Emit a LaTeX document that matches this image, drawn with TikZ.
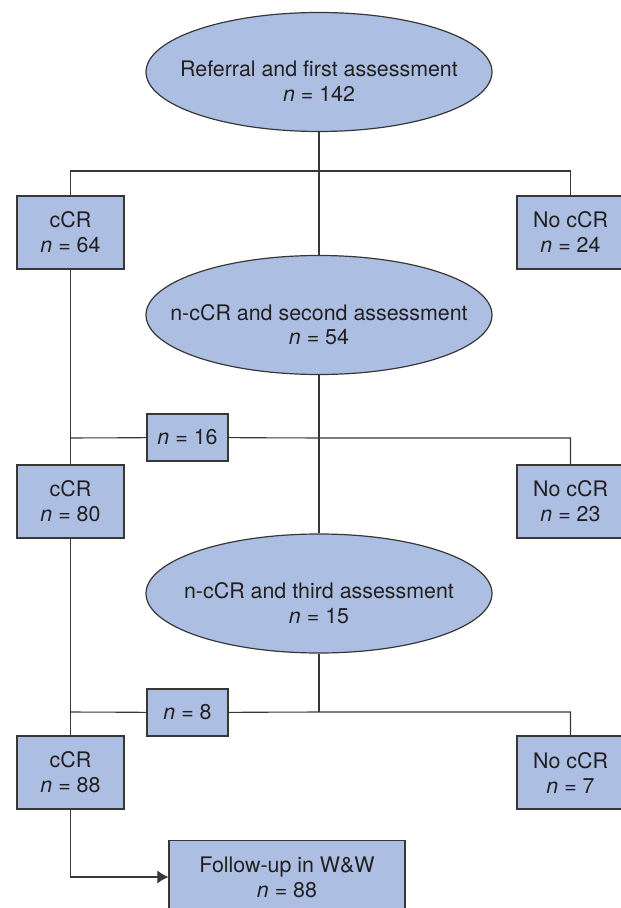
\documentclass[tikz,border=0pt]{standalone}
\usepackage{fontspec}
\setmainfont{TeX Gyre Heros}
\usetikzlibrary{arrows.meta,positioning,shapes.geometric}
\definecolor{boxblue}{RGB}{172,191,227}
\definecolor{linegray}{RGB}{55,55,55}
\definecolor{textgray}{RGB}{35,31,32}
\tikzset{%
	stage/.style    = {draw=linegray, fill=boxblue, ellipse, minimum width=173pt, minimum height=59.5pt, inner xsep=-30pt, inner ysep=0pt, text height=30pt, text depth=0pt, align=center, text=textgray, line width=0.6pt}, % assessment
	result/.style   = {draw=linegray, fill=boxblue, rectangle, minimum width=53.5pt, minimum height=36.5pt, inner sep=0pt, align=center, text=textgray, line width=0.6pt}, % outcome
	count/.style    = {draw=linegray, fill=boxblue, rectangle, minimum width=40.5pt, minimum height=23.5pt, inner sep=0pt, text=textgray, line width=0.6pt}, % moved over
	waypoint/.style = {coordinate}, % junction
	link/.style     = {draw=linegray, line width=0.55pt},
	arrow/.style    = {-{Latex[length=5.5pt,width=6.5pt]}},
}

\begin{document}
\begin{tikzpicture}[x=0.5pt,y=-0.5pt,font=\fontsize{10.7}{12.5}\selectfont]
	\useasboundingbox (0,0) rectangle (620,908);
	
	\node [stage] (first) at (319,72) {Referral and first assessment\\\textit{n} = 142};
	\node [stage] (second) at (319,315) {n-cCR and second assessment\\\textit{n} = 54};
	\node [stage] (third) at (319,593.5) {n-cCR and third assessment\\\textit{n} = 15};
	
	\node [result] (ccr1) at (70.5,232.5) {cCR\\\textit{n} = 64};
	\node [result] (nocr1) at (570.5,232.5) {No cCR\\\textit{n} = 24};
	\node [result] (ccr2) at (70.5,501.5) {cCR\\\textit{n} = 80};
	\node [result] (nocr2) at (570.5,501.5) {No cCR\\\textit{n} = 23};
	\node [result] (ccr3) at (70.5,772.5) {cCR\\\textit{n} = 88};
	\node [result] (nocr3) at (570.5,772.5) {No cCR\\\textit{n} = 7};
	\node [count] (gain2) at (187.5,437.5) {\textit{n} = 16};
	\node [count] (gain3) at (187.5,712.5) {\textit{n} = 8};
	\node [result,minimum width=118pt] (follow) at (287,877) {Follow-up in W\&W\\\textit{n} = 88};
	
	\node [waypoint] (split1) at (319,171) {};
	\node [waypoint] (split2) at (319,438) {};
	\node [waypoint] (split3) at (319,712) {};
	
	\draw [link] (first) -- (second) -- (third) -- (split3);
	\draw [link] (ccr1.north) |- (split1) -| (nocr1.north);
	\draw [link] (ccr2.north |- split2) -- (gain2) -- (split2) -| (nocr2.north);
	\draw [link] (ccr3.north |- split3) -- (gain3) -- (split3) -| (nocr3.north);
	\draw [link] (ccr1) -- (ccr2) -- (ccr3);
	\draw [link,arrow] (ccr3) |- (follow);
	
\end{tikzpicture}
\end{document}
